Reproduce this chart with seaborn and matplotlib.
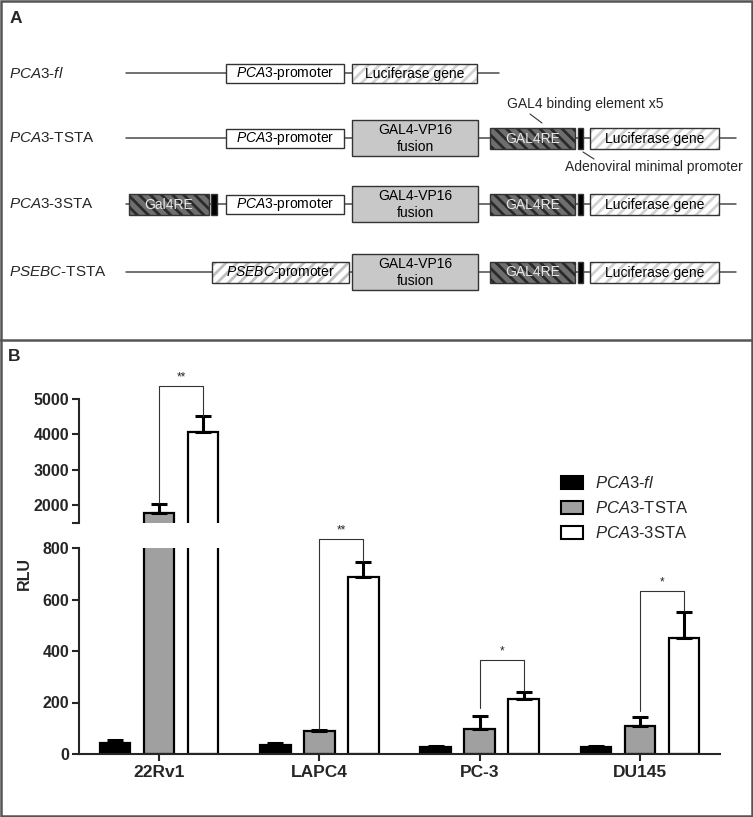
import pandas as pd
import seaborn as sns
import matplotlib.pyplot as plt
from matplotlib.patches import Rectangle, Patch

sns.set_style("ticks")
plt.rcParams["font.family"] = ["Liberation Sans", "DejaVu Sans"]
plt.rcParams["mathtext.fontset"] = "custom"
plt.rcParams["mathtext.rm"] = "Liberation Sans"
plt.rcParams["mathtext.it"] = "Liberation Sans:italic"
plt.rcParams["mathtext.bf"] = "Liberation Sans:bold"
plt.rcParams["hatch.linewidth"] = 2.0

W, H = 753, 817

# ---- panel B data ----
cell_lines = ["22Rv1", "LAPC4", "PC-3", "DU145"]
constructs = ["PCA3-fl", "PCA3-TSTA", "PCA3-3STA"]
rlu_fl = [44, 35, 28, 26]
rlu_tsta = [1793, 89, 99, 108]
rlu_3sta = [4057, 686, 215, 451]
sem_fl = [10, 6, 4, 5]
sem_tsta = [255, 5, 48, 36]
sem_3sta = [463, 58, 26, 102]

sig_labels = ["**", "**", "*", "*"]
sig_height = [5357, 835, 366, 634]
sig_left_end = [2060, 96, 178, 166]
sig_right_end = [4530, 750, 244, 556]

legend_labels = [r"$\it{PCA3}$-$\it{fl}$", r"$\it{PCA3}$-TSTA", r"$\it{PCA3}$-3STA"]
bar_colors = ["#000000", "#a0a0a0", "#ffffff"]

# ---- panel A constructs ----
construct_names = [r"$\it{PCA3}$-$\it{fl}$", r"$\it{PCA3}$-TSTA",
                   r"$\it{PCA3}$-3STA", r"$\it{PSEBC}$-TSTA"]
construct_parts = [
    ["prom", "luc_short"],
    ["prom", "vp16", "re", "minp", "luc"],
    ["re_up", "minp_up", "prom", "vp16", "re", "minp", "luc"],
    ["psebc", "vp16", "re", "minp", "luc"],
]

# layout of the schematic (pixel units of the figure)
row_y = [73, 138, 204, 272]
backbone = [(126, 499), (126, 736), (126, 736), (126, 736)]
PART = {
    "prom": dict(x=(226, 344), h=19, fc="white", text=r"$\it{PCA3}$-promoter"),
    "luc_short": dict(x=(352, 477), h=19, fc="white", hatch="///", hc="#d2d2d2",
                      text="Luciferase gene"),
    "luc": dict(x=(590, 719), h=21, fc="white", hatch="///", hc="#d2d2d2",
                text="Luciferase gene"),
    "vp16": dict(x=(352, 478), h=36, fc="#c8c8c8", text="GAL4-VP16\nfusion"),
    "re": dict(x=(490, 575), h=21, fc="#6e6e6e", hatch="\\\\\\", hc="#2a2a2a",
               text="GAL4RE", tc="#e6e6e6"),
    "re_up": dict(x=(129, 209), h=21, fc="#6e6e6e", hatch="\\\\\\", hc="#2a2a2a",
                  text="Gal4RE", tc="#e6e6e6"),
    "minp": dict(x=(578, 583), h=21, fc="black"),
    "minp_up": dict(x=(211, 217), h=21, fc="black"),
    "psebc": dict(x=(212, 349), h=21, fc="white", hatch="///", hc="#bfbfbf",
                  text=r"$\it{PSEBC}$-promoter"),
}

fig = plt.figure(figsize=(W / 100, H / 100), dpi=100)

# overlay axes in pixel coordinates for the schematic and frames
axA = fig.add_axes([0, 0, 1, 1])
axA.set_xlim(0, W)
axA.set_ylim(H, 0)
axA.axis("off")

axA.add_patch(Rectangle((1, 1), W - 2, H - 2, fill=False, edgecolor="#555555", lw=1.8))
axA.plot([0, W], [340, 340], color="#555555", lw=1.8)
axA.text(10, 18, "A", fontsize=12.5, fontweight="bold", va="center")
axA.text(8, 356, "B", fontsize=12.5, fontweight="bold", va="center")

for name, parts, yc, (b0, b1) in zip(construct_names, construct_parts, row_y, backbone):
    axA.text(9, yc, name, fontsize=11, va="center", ha="left")
    axA.plot([b0, b1], [yc, yc], color="#4a4a4a", lw=1.1, zorder=1)
    for p in parts:
        st = PART[p]
        x0, x1 = st["x"]
        h = st["h"]
        if "hatch" in st:
            axA.add_patch(Rectangle((x0, yc - h / 2), x1 - x0, h, facecolor=st["fc"],
                                    edgecolor=st["hc"], hatch=st["hatch"], lw=0, zorder=2))
            axA.add_patch(Rectangle((x0, yc - h / 2), x1 - x0, h, facecolor="none",
                                    edgecolor="#333333", lw=1.0, zorder=3))
        else:
            axA.add_patch(Rectangle((x0, yc - h / 2), x1 - x0, h, facecolor=st["fc"],
                                    edgecolor="#333333", lw=1.0, zorder=2))
        if "text" in st:
            axA.text((x0 + x1) / 2, yc + 0.5, st["text"], fontsize=10, ha="center",
                     va="center", color=st.get("tc", "black"), linespacing=1.2, zorder=4)

axA.text(507, 104, "GAL4 binding element x5", fontsize=10, va="center")
axA.plot([530, 542], [114, 123], color="#333333", lw=0.8)
axA.text(565, 167, "Adenoviral minimal promoter", fontsize=10, va="center")
axA.plot([583, 594], [152, 159], color="#333333", lw=0.8)

# ---- panel B ----
df = pd.DataFrame({
    "cell": cell_lines * 3,
    "construct": [c for c in constructs for _ in cell_lines],
    "RLU": rlu_fl + rlu_tsta + rlu_3sta,
})
sems = [sem_fl, sem_tsta, sem_3sta]
palette = dict(zip(constructs, bar_colors))

axU = fig.add_axes([79 / W, 1 - 523 / H, 641 / W, 124 / H])
axL = fig.add_axes([79 / W, 1 - 754 / H, 641 / W, 206 / H])

for ax in (axU, axL):
    sns.barplot(data=df, x="cell", y="RLU", hue="construct", hue_order=constructs,
                order=cell_lines, palette=palette, saturation=1, width=0.825, gap=0.31,
                edgecolor="black", linewidth=1.6, errorbar=None, legend=False, ax=ax)
    for cont, err in zip(ax.containers, sems):
        xs = [b.get_x() + b.get_width() / 2 for b in cont]
        ys = [b.get_height() for b in cont]
        ax.errorbar(xs, ys, yerr=[[0] * len(err), err], fmt="none", ecolor="black",
                    elinewidth=2.2, capsize=6, capthick=2.2, zorder=3)
    ax.set_xlim(-0.5, 3.5)
    ax.set_xlabel("")
    ax.set_ylabel("")
    for s in ("top", "right"):
        ax.spines[s].set_visible(False)
    ax.spines["left"].set_linewidth(1.5)
    ax.spines["bottom"].set_linewidth(1.5)
    ax.tick_params(direction="out", length=5, width=1.5, labelsize=11.5, pad=2)
    ax.set_facecolor("none")

axU.set_ylim(1500, 5000)
axU.set_yticks([1500, 2000, 3000, 4000, 5000])
axU.set_yticklabels(["", "2000", "3000", "4000", "5000"])
axU.spines["bottom"].set_visible(False)
axU.set_xticks([])

axL.set_ylim(0, 800)
axL.set_yticks([0, 200, 400, 600, 800])
axL.tick_params(axis="x", labelsize=12.5, pad=3)
for lbl in axL.get_yticklabels() + axL.get_xticklabels() + axU.get_yticklabels():
    lbl.set_fontweight("bold")

# significance brackets
gray_x = [b.get_x() + b.get_width() / 2 for b in axL.containers[1]]
white_x = [b.get_x() + b.get_width() / 2 for b in axL.containers[2]]
for i, lab in enumerate(sig_labels):
    ax = axU if i == 0 else axL
    xl, xr = gray_x[i], white_x[i]
    ax.plot([xl, xl, xr, xr], [sig_left_end[i], sig_height[i], sig_height[i], sig_right_end[i]],
            color="#333333", lw=0.8, clip_on=False, zorder=4)
    ax.annotate(lab, ((xl + xr) / 2, sig_height[i]), xytext=(0, 2), textcoords="offset points",
                ha="center", va="bottom", fontsize=8.5, annotation_clip=False)

fig.text(24 / W, 1 - 573 / H, "RLU", rotation=90, fontsize=11.5, fontweight="bold",
         ha="center", va="center")

handles = [Patch(facecolor=c, edgecolor="black", lw=1.5) for c in bar_colors]
fig.legend(handles, legend_labels, loc="upper left", bbox_to_anchor=(561 / W, 1 - 475 / H),
           frameon=False, fontsize=12, borderpad=0, borderaxespad=0, handlelength=1.32,
           handleheight=0.8, handletextpad=0.72, labelspacing=0.55)

fig.savefig("out.png", dpi=100)
